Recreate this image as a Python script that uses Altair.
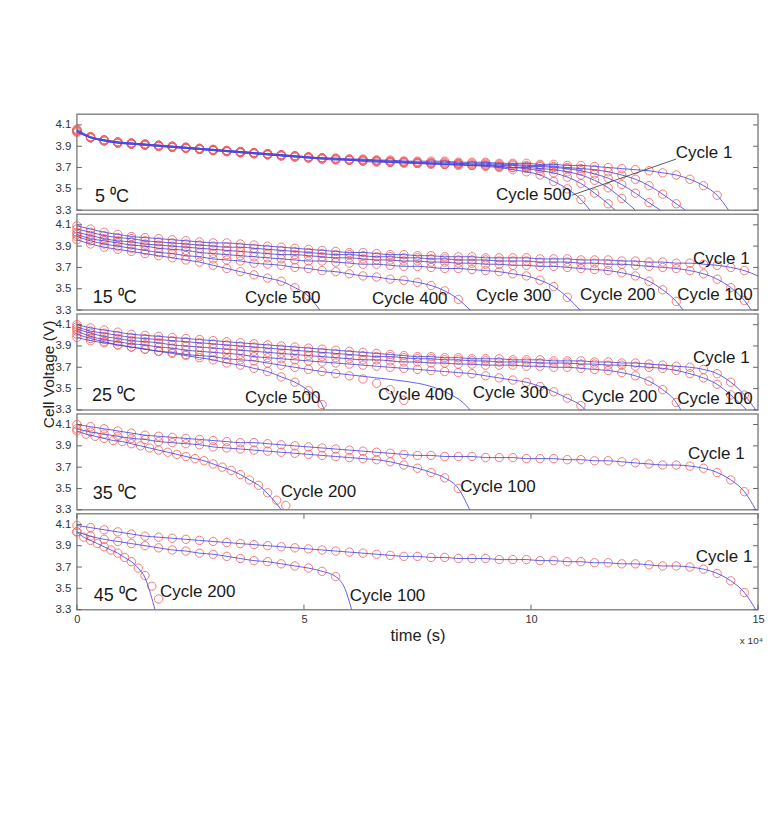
import altair as alt
import pandas as pd

# ---------------- time grids (x 10^4 s) ----------------
T03 = [0.0, 0.3, 0.6, 0.9, 1.2, 1.5, 1.8, 2.1, 2.4, 2.7, 3.0, 3.3, 3.6, 3.9, 4.2, 4.5, 4.8,
       5.1, 5.4, 5.7, 6.0, 6.3, 6.6, 6.9, 7.2, 7.5, 7.8, 8.1, 8.4, 8.7, 9.0, 9.3, 9.6, 9.9,
       10.2, 10.5, 10.8, 11.1, 11.4, 11.7, 12.0, 12.3, 12.6, 12.9, 13.2, 13.5, 13.8, 14.1,
       14.4, 14.7, 15.0]
T02 = [0.0, 0.2, 0.4, 0.6, 0.8, 1.0, 1.2, 1.4, 1.6, 1.8, 2.0, 2.2, 2.4, 2.6, 2.8, 3.0, 3.2,
       3.4, 3.6, 3.8, 4.0, 4.2, 4.4, 4.6, 4.8]
T015 = [0.0, 0.15, 0.3, 0.45, 0.6, 0.75, 0.9, 1.05, 1.2, 1.35, 1.5, 1.65, 1.8, 1.95]
GRIDS = {"T03": T03, "T02": T02, "T015": T015}

# ---------------- 5 C ----------------
V5_C1 = [4.06, 3.99, 3.96, 3.94, 3.93, 3.92, 3.91, 3.90, 3.89, 3.88, 3.87, 3.86, 3.85, 3.84, 3.83,
         3.82, 3.81, 3.80, 3.79, 3.79, 3.78, 3.78, 3.77, 3.77, 3.76, 3.76, 3.76, 3.76, 3.75, 3.75,
         3.75, 3.74, 3.74, 3.74, 3.73, 3.73, 3.72, 3.72, 3.71, 3.70, 3.69, 3.68, 3.67, 3.65, 3.63,
         3.59, 3.53, 3.44]
V5_C100 = [4.05, 3.99, 3.96, 3.94, 3.93, 3.92, 3.91, 3.90, 3.89, 3.88, 3.87, 3.86, 3.85, 3.84, 3.83,
           3.82, 3.81, 3.80, 3.79, 3.78, 3.78, 3.77, 3.77, 3.76, 3.76, 3.75, 3.75, 3.75, 3.74, 3.74,
           3.74, 3.73, 3.73, 3.72, 3.72, 3.71, 3.70, 3.69, 3.68, 3.66, 3.63, 3.59, 3.53, 3.45, 3.36]
V5_C200 = [4.05, 3.98, 3.96, 3.94, 3.93, 3.92, 3.91, 3.90, 3.89, 3.88, 3.87, 3.86, 3.85, 3.84, 3.83,
           3.82, 3.81, 3.80, 3.79, 3.78, 3.77, 3.77, 3.76, 3.76, 3.75, 3.75, 3.74, 3.74, 3.74, 3.73,
           3.73, 3.72, 3.72, 3.71, 3.71, 3.70, 3.69, 3.67, 3.64, 3.60, 3.54, 3.46, 3.37]
V5_C300 = [4.04, 3.98, 3.95, 3.93, 3.92, 3.91, 3.90, 3.89, 3.88, 3.87, 3.86, 3.85, 3.84, 3.83, 3.82,
           3.81, 3.80, 3.79, 3.78, 3.78, 3.77, 3.76, 3.76, 3.75, 3.75, 3.74, 3.74, 3.73, 3.73, 3.72,
           3.72, 3.71, 3.70, 3.70, 3.69, 3.68, 3.66, 3.63, 3.58, 3.51, 3.41]
V5_C400 = [4.04, 3.98, 3.95, 3.93, 3.92, 3.91, 3.90, 3.89, 3.88, 3.87, 3.86, 3.85, 3.84, 3.83, 3.82,
           3.81, 3.80, 3.79, 3.79, 3.78, 3.77, 3.77, 3.76, 3.75, 3.75, 3.74, 3.74, 3.73, 3.73, 3.72,
           3.72, 3.71, 3.70, 3.69, 3.67, 3.65, 3.61, 3.55, 3.46, 3.36]
V5_C500 = [4.03, 3.98, 3.95, 3.93, 3.92, 3.91, 3.90, 3.89, 3.88, 3.87, 3.86, 3.85, 3.84, 3.83, 3.82,
           3.81, 3.80, 3.79, 3.78, 3.77, 3.77, 3.76, 3.75, 3.75, 3.74, 3.74, 3.73, 3.73, 3.72, 3.72,
           3.71, 3.70, 3.68, 3.66, 3.63, 3.57, 3.50, 3.40]

# ---------------- 15 C ----------------
V15_C1 = [4.09, 4.06, 4.03, 4.01, 3.99, 3.98, 3.97, 3.96, 3.95, 3.94, 3.93, 3.93, 3.92, 3.91, 3.90,
          3.89, 3.88, 3.87, 3.86, 3.85, 3.84, 3.84, 3.83, 3.82, 3.82, 3.81, 3.81, 3.80, 3.80, 3.80,
          3.79, 3.79, 3.79, 3.79, 3.78, 3.78, 3.78, 3.77, 3.77, 3.77, 3.76, 3.76, 3.75, 3.75, 3.74,
          3.74, 3.73, 3.72, 3.70, 3.67]
V15_C100 = [4.06, 4.03, 4.00, 3.98, 3.97, 3.95, 3.94, 3.93, 3.92, 3.91, 3.90, 3.89, 3.89, 3.88, 3.87,
            3.86, 3.85, 3.84, 3.83, 3.82, 3.82, 3.81, 3.80, 3.80, 3.79, 3.79, 3.78, 3.78, 3.77, 3.77,
            3.77, 3.76, 3.76, 3.76, 3.75, 3.75, 3.75, 3.74, 3.74, 3.73, 3.73, 3.72, 3.71, 3.70, 3.69,
            3.67, 3.64, 3.59, 3.51, 3.39]
V15_C200 = [4.03, 4.00, 3.97, 3.95, 3.94, 3.92, 3.91, 3.90, 3.89, 3.88, 3.87, 3.86, 3.85, 3.84, 3.83,
            3.82, 3.82, 3.81, 3.80, 3.79, 3.79, 3.78, 3.77, 3.77, 3.76, 3.76, 3.75, 3.75, 3.74, 3.74,
            3.73, 3.73, 3.72, 3.72, 3.71, 3.71, 3.70, 3.69, 3.68, 3.67, 3.65, 3.62, 3.57, 3.49, 3.38]
V15_C300 = [4.01, 3.97, 3.95, 3.93, 3.91, 3.90, 3.88, 3.87, 3.86, 3.84, 3.83, 3.82, 3.81, 3.80, 3.79,
            3.78, 3.77, 3.76, 3.76, 3.75, 3.74, 3.73, 3.73, 3.72, 3.71, 3.71, 3.70, 3.69, 3.69, 3.68,
            3.67, 3.66, 3.64, 3.62, 3.58, 3.52, 3.42]
V15_C400 = [3.99, 3.95, 3.92, 3.90, 3.88, 3.86, 3.84, 3.83, 3.81, 3.80, 3.78, 3.77, 3.76, 3.74, 3.73,
            3.72, 3.70, 3.69, 3.67, 3.66, 3.64, 3.62, 3.61, 3.59, 3.58, 3.56, 3.53, 3.48, 3.40]
V15_C500 = [3.96, 3.92, 3.89, 3.87, 3.85, 3.83, 3.81, 3.79, 3.77, 3.75, 3.72, 3.69, 3.66, 3.63, 3.60,
            3.57, 3.51, 3.43]

# ---------------- 25 C ----------------
V25_C1 = [4.10, 4.07, 4.05, 4.03, 4.01, 4.00, 3.99, 3.98, 3.97, 3.96, 3.95, 3.94, 3.93, 3.92, 3.91,
          3.90, 3.89, 3.88, 3.87, 3.86, 3.85, 3.84, 3.83, 3.82, 3.81, 3.80, 3.80, 3.79, 3.79, 3.78,
          3.78, 3.78, 3.77, 3.77, 3.77, 3.76, 3.76, 3.76, 3.75, 3.75, 3.74, 3.74, 3.73, 3.72, 3.71,
          3.70, 3.68, 3.64, 3.56, 3.44]
V25_C100 = [4.08, 4.04, 4.02, 4.00, 3.98, 3.97, 3.96, 3.95, 3.94, 3.93, 3.92, 3.91, 3.90, 3.89, 3.88,
            3.87, 3.86, 3.85, 3.84, 3.83, 3.82, 3.81, 3.80, 3.80, 3.79, 3.78, 3.78, 3.77, 3.77, 3.76,
            3.76, 3.75, 3.75, 3.75, 3.74, 3.74, 3.74, 3.73, 3.73, 3.72, 3.72, 3.71, 3.70, 3.69, 3.67,
            3.64, 3.60, 3.54, 3.44]
V25_C200 = [4.06, 4.02, 3.99, 3.97, 3.95, 3.94, 3.93, 3.91, 3.90, 3.89, 3.88, 3.87, 3.86, 3.85, 3.84,
            3.83, 3.82, 3.81, 3.80, 3.79, 3.78, 3.77, 3.77, 3.76, 3.75, 3.75, 3.74, 3.74, 3.73, 3.73,
            3.72, 3.72, 3.72, 3.71, 3.71, 3.70, 3.70, 3.69, 3.68, 3.67, 3.65, 3.62, 3.57, 3.49, 3.37]
V25_C300 = [4.04, 3.99, 3.96, 3.94, 3.92, 3.91, 3.89, 3.88, 3.86, 3.85, 3.84, 3.83, 3.82, 3.80, 3.79,
            3.78, 3.77, 3.76, 3.75, 3.74, 3.73, 3.72, 3.71, 3.70, 3.69, 3.68, 3.67, 3.66, 3.65, 3.64,
            3.62, 3.60, 3.58, 3.56, 3.52, 3.47, 3.41, 3.34]
V25_C400 = [4.01, 3.97, 3.94, 3.91, 3.89, 3.87, 3.85, 3.84, 3.82, 3.81, 3.80, 3.78, 3.77, 3.76, 3.74,
            3.72, 3.70, 3.68, 3.66, 3.64, 3.62, 3.59, 3.55, 3.49, 3.39]
V25_C500 = [3.98, 3.95, 3.93, 3.91, 3.89, 3.87, 3.85, 3.83, 3.81, 3.79, 3.77, 3.74, 3.72, 3.69, 3.66,
            3.61, 3.56, 3.48, 3.35]

# ---------------- 35 C ----------------
V35_C1 = [4.10, 4.08, 4.06, 4.04, 4.02, 4.00, 3.99, 3.98, 3.97, 3.96, 3.95, 3.94, 3.93, 3.93, 3.92,
          3.91, 3.90, 3.89, 3.88, 3.87, 3.86, 3.85, 3.84, 3.83, 3.82, 3.81, 3.81, 3.80, 3.80, 3.80,
          3.79, 3.79, 3.79, 3.78, 3.78, 3.78, 3.77, 3.77, 3.76, 3.76, 3.75, 3.74, 3.73, 3.72, 3.72,
          3.71, 3.69, 3.65, 3.58, 3.47]
V35_C100 = [4.06, 4.03, 4.01, 3.99, 3.97, 3.96, 3.94, 3.93, 3.92, 3.91, 3.89, 3.88, 3.87, 3.86, 3.85,
            3.84, 3.83, 3.82, 3.81, 3.80, 3.79, 3.78, 3.77, 3.75, 3.72, 3.69, 3.65, 3.60, 3.50]
V35_C200 = [4.04, 4.01, 3.99, 3.97, 3.95, 3.94, 3.92, 3.90, 3.88, 3.86, 3.84, 3.82, 3.80, 3.78, 3.76,
            3.73, 3.70, 3.67, 3.63, 3.58, 3.53, 3.46, 3.39, 3.34]

# ---------------- 45 C ----------------
V45_C1 = [4.09, 4.07, 4.05, 4.03, 4.01, 3.99, 3.98, 3.97, 3.96, 3.95, 3.94, 3.93, 3.92, 3.91, 3.90,
          3.89, 3.88, 3.87, 3.86, 3.85, 3.84, 3.83, 3.82, 3.81, 3.80, 3.80, 3.79, 3.79, 3.78, 3.78,
          3.78, 3.77, 3.77, 3.77, 3.76, 3.76, 3.75, 3.75, 3.74, 3.74, 3.73, 3.73, 3.72, 3.71, 3.71,
          3.70, 3.68, 3.64, 3.57, 3.46]
V45_C100 = [4.03, 3.99, 3.96, 3.94, 3.92, 3.90, 3.88, 3.86, 3.85, 3.83, 3.82, 3.80, 3.78, 3.76, 3.75,
            3.73, 3.71, 3.69, 3.66, 3.61]
V45_C200 = [4.03, 3.98, 3.95, 3.92, 3.89, 3.86, 3.83, 3.79, 3.75, 3.69, 3.62, 3.52, 3.40]

# (panel, cycle, grid, circle values, points used by model line, model line tail)
CURVES = [
    ("5", 1, "T03", V5_C1, None, [(14.35, 3.3)]),
    ("5", 100, "T03", V5_C100, None, [(13.4, 3.3)]),
    ("5", 200, "T03", V5_C200, None, [(12.85, 3.3)]),
    ("5", 300, "T03", V5_C300, None, [(12.3, 3.3)]),
    ("5", 400, "T03", V5_C400, None, [(11.85, 3.3)]),
    ("5", 500, "T03", V5_C500, None, [(11.3, 3.3)]),
    ("15", 1, "T03", V15_C1, None, [(15.0, 3.62)]),
    ("15", 100, "T03", V15_C100, None, [(14.85, 3.3)]),
    ("15", 200, "T03", V15_C200, None, [(13.35, 3.3)]),
    ("15", 300, "T03", V15_C300, None, [(11.08, 3.3)]),
    ("15", 400, "T03", V15_C400, None, [(8.66, 3.3)]),
    ("15", 500, "T03", V15_C500, None, [(5.35, 3.3)]),
    ("25", 1, "T03", V25_C1, None, [(14.95, 3.3)]),
    ("25", 100, "T03", V25_C100, None, [(14.75, 3.3)]),
    ("25", 200, "T03", V25_C200, None, [(13.3, 3.3)]),
    ("25", 300, "T03", V25_C300, None, [(11.2, 3.3)]),
    ("25", 400, "T03", V25_C400, 19, [(6.0, 3.63), (6.6, 3.60), (7.2, 3.57), (7.8, 3.52),
                                      (8.2, 3.45), (8.5, 3.37), (8.66, 3.3)]),
    ("25", 500, "T03", V25_C500, None, [(5.45, 3.3)]),
    ("35", 1, "T03", V35_C1, None, [(14.95, 3.3)]),
    ("35", 100, "T03", V35_C100, None, [(8.65, 3.3)]),
    ("35", 200, "T02", V35_C200, 21, [(4.25, 3.43), (4.5, 3.3)]),
    ("45", 1, "T03", V45_C1, None, [(14.95, 3.3)]),
    ("45", 100, "T03", V45_C100, None, [(5.9, 3.5), (6.05, 3.3)]),
    ("45", 200, "T015", V45_C200, 10, [(1.5, 3.6), (1.62, 3.45), (1.72, 3.3)]),
]

PANELS = ["5", "15", "25", "35", "45"]
TEMP_LABELS = {"5": "5 ⁰C", "15": "15 ⁰C", "25": "25 ⁰C", "35": "35 ⁰C", "45": "45 ⁰C"}
TEMP_POS = {"5": (0.40, 3.42), "15": (0.35, 3.41), "25": (0.33, 3.43),
            "35": (0.35, 3.45), "45": (0.37, 3.43)}
CYCLE_LABELS = [
    ("5", "Cycle 1", 13.19, 3.84), ("5", "Cycle 500", 9.23, 3.44),
    ("15", "Cycle 1", 13.57, 3.78), ("15", "Cycle 500", 3.70, 3.41), ("15", "Cycle 400", 6.50, 3.40),
    ("15", "Cycle 300", 8.79, 3.43), ("15", "Cycle 200", 11.08, 3.44), ("15", "Cycle 100", 13.22, 3.44),
    ("25", "Cycle 1", 13.57, 3.79), ("25", "Cycle 500", 3.70, 3.41), ("25", "Cycle 400", 6.63, 3.44),
    ("25", "Cycle 300", 8.72, 3.46), ("25", "Cycle 200", 11.12, 3.42), ("25", "Cycle 100", 13.22, 3.40),
    ("35", "Cycle 1", 13.46, 3.82), ("35", "Cycle 200", 4.49, 3.47), ("35", "Cycle 100", 8.44, 3.51),
    ("45", "Cycle 1", 13.63, 3.79), ("45", "Cycle 200", 1.83, 3.47), ("45", "Cycle 100", 6.01, 3.43),
]
POINTER = {"t": 10.9, "t2": 13.2, "v": 3.44, "v2": 3.78}
YTICKS = [3.3, 3.5, 3.7, 3.9, 4.1]
XTICKS = [0, 5, 10, 15]

# ---------------- build tables ----------------
pts, lines = [], []
for panel, cyc, grid, vals, cut, tail in CURVES:
    ts = GRIDS[grid][:len(vals)]
    for t, v in zip(ts, vals):
        pts.append({"panel": panel, "curve": cyc, "t": t, "v": v})
    n = len(vals) if cut is None else cut
    for t, v in zip(ts[:n], vals[:n]):
        lines.append({"panel": panel, "curve": cyc, "t": t, "v": v})
    for t, v in tail:
        lines.append({"panel": panel, "curve": cyc, "t": t, "v": v})
df_pts = pd.DataFrame(pts)
df_lines = pd.DataFrame(lines)
df_lab = pd.DataFrame([{"panel": p, "label": s, "t": t, "v": v} for p, s, t, v in CYCLE_LABELS])

W, H = 682, 96
FONT = "Liberation Sans"
RED = "#ef5b5b"
BLUE = "#4646e6"

xscale = alt.Scale(domain=[0, 15], nice=False, zero=False)
yscale = alt.Scale(domain=[3.3, 4.2], nice=False, zero=False)


def make_panel(i, panel):
    last = i == len(PANELS) - 1
    if last:
        xax = alt.Axis(values=XTICKS, labelFontSize=11, labelColor="#333", labelPadding=4,
                       labelFlush=False, titleFontSize=16.5, titleFontWeight="normal",
                       titleColor="#222", titlePadding=3, grid=False)
        X = alt.X("t:Q", scale=xscale, axis=xax, title="time (s)")
    else:
        X = alt.X("t:Q", scale=xscale, axis=None)
    yax = alt.Axis(values=YTICKS, format=".1f", labelFontSize=11.5, labelColor="#333",
                   labelPadding=6, titleFontSize=15.5, titleFontWeight="normal",
                   titleColor="#222", titlePadding=-2, titleY=60, grid=False)
    if panel == "25":
        Y = alt.Y("v:Q", scale=yscale, axis=yax, title="Cell Voltage (V)")
    else:
        Y = alt.Y("v:Q", scale=yscale, axis=yax, title=None)

    dp = df_pts[df_pts.panel == panel]
    dl = df_lines[df_lines.panel == panel]
    dlab = df_lab[df_lab.panel == panel]

    circles = alt.Chart(dp).mark_point(shape="circle", filled=False, size=70, color=RED,
                                        strokeWidth=1, opacity=0.8).encode(x=X, y=Y)
    model = alt.Chart(dl).mark_line(interpolate="monotone", color=BLUE, strokeWidth=1,
                                    opacity=0.85, clip=True).encode(
        x=X, y=Y, detail="curve:N")
    labels = alt.Chart(dlab).mark_text(align="left", baseline="middle", font=FONT,
                                       fontSize=17, color="#1a1a1a").encode(
        x=X, y=Y, text="label:N")
    tp = TEMP_POS[panel]
    temp = alt.Chart(pd.DataFrame([{"t": tp[0], "v": tp[1], "label": TEMP_LABELS[panel]}])).mark_text(
        align="left", baseline="middle", font=FONT, fontSize=18, color="#1a1a1a").encode(
        x=X, y=Y, text="label:N")
    dtick = pd.DataFrame({"v": YTICKS})
    lt = alt.Chart(dtick).mark_rule(color="#666", strokeWidth=1).encode(
        y=Y, x=alt.value(0), x2=alt.value(5))
    rt = alt.Chart(dtick).mark_rule(color="#666", strokeWidth=1).encode(
        y=Y, x=alt.value(W - 5), x2=alt.value(W))
    layers = [circles, model, labels, temp, lt, rt]
    if panel == "5":
        ptr = alt.Chart(pd.DataFrame([POINTER])).mark_rule(color="#333", strokeWidth=0.8).encode(
            x=X, x2="t2:Q", y=Y, y2="v2:Q")
        layers.append(ptr)
    if last:
        dx = pd.DataFrame({"t": XTICKS})
        bt = alt.Chart(dx).mark_rule(color="#666", strokeWidth=1).encode(
            x=X, y=alt.value(H - 5), y2=alt.value(H))
        tt = alt.Chart(dx).mark_rule(color="#666", strokeWidth=1).encode(
            x=X, y=alt.value(0), y2=alt.value(5))
        mult = alt.Chart(pd.DataFrame([{"t": 14.6, "v": 3.01, "label": "x 10⁴"}])).mark_text(
            align="left", baseline="middle", font=FONT, fontSize=10, color="#333").encode(
            x=X, y=Y, text="label:N")
        layers += [bt, tt, mult]
    return alt.layer(*layers).properties(width=W, height=H)


chart = alt.vconcat(*[make_panel(i, p) for i, p in enumerate(PANELS)], spacing=4,
                    bounds="flush").properties(
    padding={"left": 33, "top": 105, "right": 5, "bottom": 5},
    background="white",
).configure_view(stroke="#8a8a8a", strokeWidth=1.5).configure_axis(
    grid=False, domain=False, ticks=False, labelFont=FONT, titleFont=FONT
)

chart.save("out.html", embed_options={"renderer": "svg", "actions": False})
